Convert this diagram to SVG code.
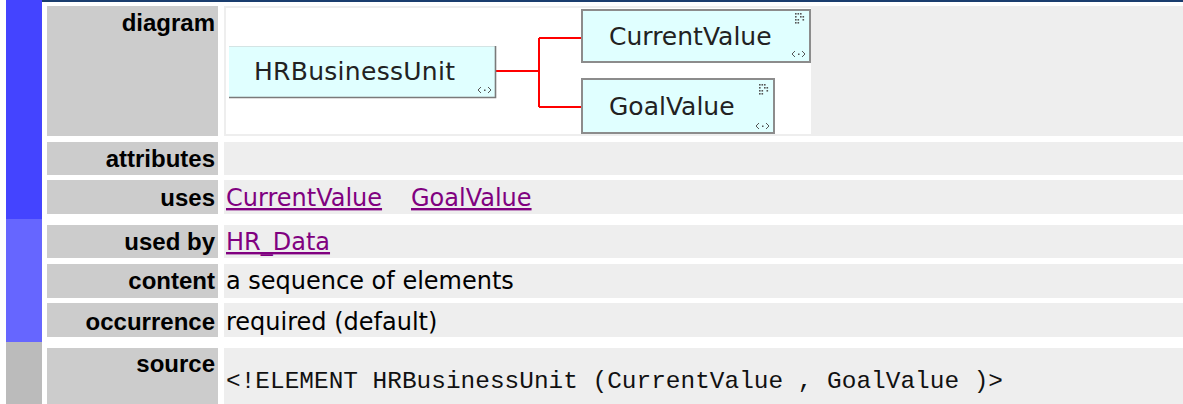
<svg xmlns="http://www.w3.org/2000/svg" xmlns:xlink="http://www.w3.org/1999/xlink" width="1183" height="404" viewBox="0 0 1183 404">
<style>
.lbl{font-family:"Liberation Sans",Arial,sans-serif;font-weight:bold;font-size:24px;fill:#000;text-anchor:end}
.val{font-family:"DejaVu Sans",Verdana,sans-serif;font-size:24px;fill:#000}
.lnk{font-family:"DejaVu Sans",Verdana,sans-serif;font-size:24px;fill:#800080;text-decoration:underline}
.code{font-family:"Liberation Mono","Courier New",monospace;font-size:24.4px;fill:#111}
.lc{fill:#cccccc}
.vc{fill:#eeeeee}
.ntxt{font-family:"DejaVu Sans",Verdana,sans-serif;font-size:25px;fill:#222}
.box{fill:#e0ffff}
.gbox{fill:#e0ffff;stroke:#8c8c8c;stroke-width:2}
.conn{fill:none;stroke:#ff0000;stroke-width:2}
.ico{fill:none;stroke:#555;stroke-width:1}
</style>
<defs>
<g id="ico-type">
<path class="ico" d="M3,0 L0,3 L3,6 M10,0 L13,3 L10,6"/>
<rect x="6" y="2.5" width="1.5" height="1.5" fill="#555"/>
</g>
<g id="ico-props" fill="#555">
<rect x="0" y="0" width="1.6" height="1.6"/><rect x="2.5" y="0" width="1.6" height="1.6"/><rect x="5" y="0" width="1.6" height="1.6"/>
<rect x="0" y="3" width="1.6" height="1.6"/><rect x="5" y="3" width="1.6" height="1.6"/><rect x="7.5" y="3" width="1.6" height="1.6"/>
<rect x="0" y="6" width="1.6" height="1.6"/><rect x="2.5" y="6" width="1.6" height="1.6"/><rect x="7.5" y="6" width="1.6" height="1.6"/>
<rect x="0" y="9" width="1.6" height="1.6"/><rect x="2.5" y="9" width="1.6" height="1.6"/>
</g>
</defs>
<rect x="0" y="0" width="1183" height="404" fill="#ffffff"/>
<rect x="42" y="0" width="1141" height="2" fill="#1a3d6e"/>
<rect x="6" y="0" width="36" height="219" fill="#4444ff"/>
<rect x="6" y="219" width="36" height="123" fill="#6666ff"/>
<rect x="6" y="342" width="36" height="62" fill="#bbbbbb"/>

<g id="table">
<rect class="lc" x="47" y="6" width="171" height="130"/>
<rect class="vc" x="224" y="6" width="959" height="130"/>
<rect x="226" y="8" width="585" height="126" fill="#ffffff"/>
<text class="lbl" x="215" y="31">diagram</text>

<rect class="lc" x="47" y="142" width="171" height="33"/>
<rect class="vc" x="224" y="142" width="959" height="33"/>
<text class="lbl" x="215" y="167">attributes</text>

<rect class="lc" x="47" y="180" width="171" height="34"/>
<rect class="vc" x="224" y="180" width="959" height="34"/>
<text class="lbl" x="215" y="206">uses</text>
<text class="lnk" x="226" y="206">CurrentValue</text>
<text class="lnk" x="411" y="206">GoalValue</text>

<rect class="lc" x="47" y="225" width="171" height="33"/>
<rect class="vc" x="224" y="225" width="959" height="33"/>
<text class="lbl" x="215" y="250">used by</text>
<text class="lnk" x="226" y="250">HR_Data</text>

<rect class="lc" x="47" y="264" width="171" height="34"/>
<rect class="vc" x="224" y="264" width="959" height="34"/>
<text class="lbl" x="215" y="289">content</text>
<text class="val" x="226" y="289">a sequence of elements</text>

<rect class="lc" x="47" y="303" width="171" height="34"/>
<rect class="vc" x="224" y="303" width="959" height="34"/>
<text class="lbl" x="215" y="330">occurrence</text>
<text class="val" x="226" y="330">required (default)</text>

<rect class="lc" x="47" y="348" width="171" height="56"/>
<rect class="vc" x="224" y="348" width="959" height="56"/>
<text class="lbl" x="215" y="372">source</text>
<text class="code" x="226" y="388" textLength="777" lengthAdjust="spacing">&lt;!ELEMENT HRBusinessUnit (CurrentValue , GoalValue )&gt;</text>
</g>

<g id="connectors">
<path class="conn" d="M496,71 H539 M539,38 V107 M539,38 H581 M539,107 H581"/>
</g>

<g id="node-HRBusinessUnit">
<rect class="box" x="229" y="46" width="267" height="52"/>
<path d="M229,46.5 H495.5" stroke="#d4e4e4" stroke-width="1" fill="none"/>
<path d="M495.5,46 V97.5 H229" stroke="#7a7a7a" stroke-width="1.6" fill="none"/>
<text class="ntxt" x="254" y="80" textLength="201" lengthAdjust="spacing">HRBusinessUnit</text>
<use xlink:href="#ico-type" href="#ico-type" x="478" y="87"/>
</g>

<g id="node-CurrentValue">
<rect class="gbox" x="582" y="10" width="228" height="52"/>
<text class="ntxt" x="609" y="45">CurrentValue</text>
<use xlink:href="#ico-props" href="#ico-props" x="795" y="13"/>
<use xlink:href="#ico-type" href="#ico-type" x="792" y="51"/>
</g>

<g id="node-GoalValue">
<rect class="gbox" x="582" y="79" width="192" height="54"/>
<text class="ntxt" x="609" y="115">GoalValue</text>
<use xlink:href="#ico-props" href="#ico-props" x="759" y="84"/>
<use xlink:href="#ico-type" href="#ico-type" x="756" y="123"/>
</g>
</svg>
